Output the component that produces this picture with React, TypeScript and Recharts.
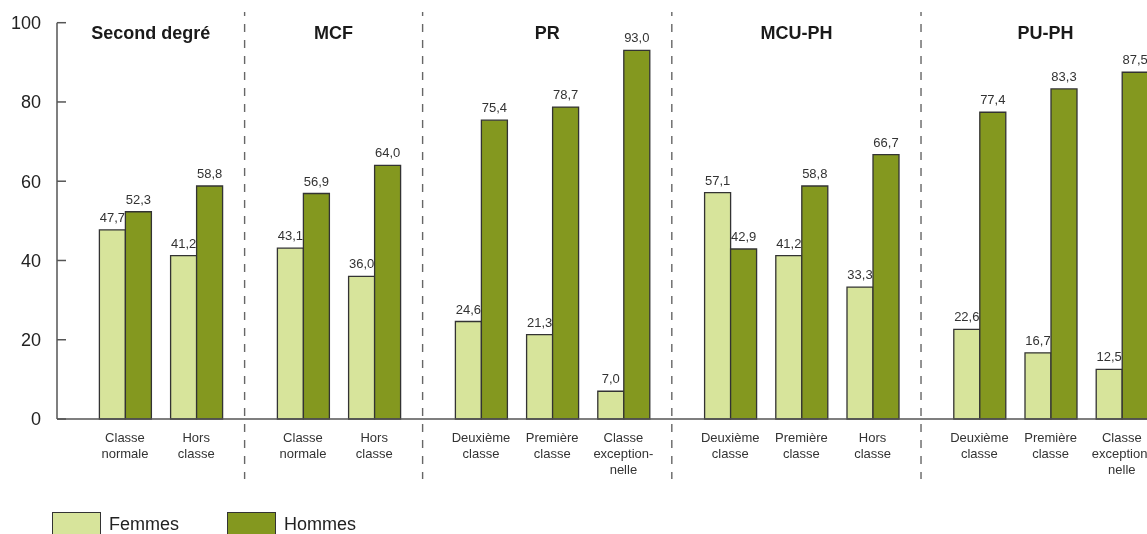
import { Bar, BarChart, LabelList, ReferenceArea, ReferenceLine, XAxis, YAxis } from "recharts";

const groups = ["Second degré", "MCF", "PR", "MCU-PH", "PU-PH"];
const categories = [
  "Classe\nnormale",
  "Hors\nclasse",
  "Classe\nnormale",
  "Hors\nclasse",
  "Deuxième\nclasse",
  "Première\nclasse",
  "Classe\nexception-\nnelle",
  "Deuxième\nclasse",
  "Première\nclasse",
  "Hors\nclasse",
  "Deuxième\nclasse",
  "Première\nclasse",
  "Classe\nexception-\nnelle",
];
const categoryGroup = [0, 0, 1, 1, 2, 2, 2, 3, 3, 3, 4, 4, 4];
const femmes = [47.7, 41.2, 43.1, 36.0, 24.6, 21.3, 7.0, 57.1, 41.2, 33.3, 22.6, 16.7, 12.5];
const hommes = [52.3, 58.8, 56.9, 64.0, 75.4, 78.7, 93.0, 42.9, 58.8, 66.7, 77.4, 83.3, 87.5];
const yTicks = [0, 20, 40, 60, 80, 100];

const FEMMES = "#d7e49b";
const HOMMES = "#84981f";
const EDGE = "#333333";
const AXIS = "#555555";
const FONT = "'Liberation Sans', Arial, sans-serif";

// half a slot of space between two groups
const positions = categories.map((_, i) => i + 0.5 * categoryGroup[i]);
const data = categories.map((c, i) => ({
  pos: positions[i],
  label: c,
  femmes: femmes[i],
  hommes: hommes[i],
}));

const X_MIN = -0.955;
const X_MAX = 15;

const groupLast = groups.map((_, g) => Math.max(...positions.filter((_, i) => categoryGroup[i] === g)));
const dividers = groupLast.map((p) => p + 0.68);

const fmt = (v: any) => Number(v).toFixed(1).replace(".", ",");

const XTick = ({ x, y, payload }: any) => {
  const i = positions.indexOf(payload.value);
  const lines = i >= 0 ? categories[i].split("\n") : [];
  return (
    <text x={x} y={y} textAnchor="middle" fontSize={13} fill="#333" fontFamily={FONT}>
      {lines.map((l, k) => (
        <tspan key={k} x={x} dy={k === 0 ? 22.5 : 16}>
          {l}
        </tspan>
      ))}
    </text>
  );
};

const YTick = ({ x, y, payload }: any) => (
  <g>
    <line x1={x + 16} x2={x + 25} y1={y} y2={y} stroke={AXIS} strokeWidth={1.5} />
    <text x={x} y={y} dy="0.36em" textAnchor="end" fontSize={18} fill="#222" fontFamily={FONT}>
      {payload.value}
    </text>
  </g>
);

const Divider = (props: any) => {
  const top = Math.min(props.y1, props.y2);
  const bottom = Math.max(props.y1, props.y2);
  return (
    <line
      x1={props.x1}
      x2={props.x2}
      y1={top - 10.7}
      y2={bottom + 60}
      stroke="#666"
      strokeWidth={1.4}
      strokeDasharray="8 8"
      strokeDashoffset={4}
    />
  );
};

const GroupTitle = (title: string) => (props: any) => {
  const vb = props.viewBox;
  return (
    <text
      x={vb.x + vb.width / 2}
      y={vb.y + 16.3}
      textAnchor="middle"
      fontSize={18}
      fontWeight="bold"
      fill="#1a1a1a"
      fontFamily={FONT}
    >
      {title}
    </text>
  );
};

export default function App() {
  return (
    <div
      style={{
        position: "fixed",
        left: 8,
        top: 8,
        width: 1139,
        height: 526,
        overflow: "hidden",
        fontFamily: FONT,
      }}
    >
      <style>{"html { overflow: hidden; }"}</style>
      <BarChart
        width={1185}
        height={526}
        data={data}
        margin={{ top: 14.7, right: 0, bottom: 0, left: 0 }}
        barSize={26}
        barGap={0}
      >
        <XAxis
          dataKey="pos"
          type="number"
          domain={[X_MIN, X_MAX]}
          allowDataOverflow
          ticks={positions}
          interval={0}
          tick={<XTick />}
          tickLine={false}
          tickSize={0}
          tickMargin={0}
          height={115}
          axisLine={{ stroke: AXIS, strokeWidth: 1.5 }}
        />
        <YAxis
          type="number"
          domain={[0, 100]}
          ticks={yTicks}
          width={49}
          tick={<YTick />}
          tickLine={false}
          tickSize={0}
          tickMargin={16}
          axisLine={{ stroke: AXIS, strokeWidth: 1.5 }}
        />
        {groups.map((g, gi) => (
          <ReferenceArea
            key={g}
            x1={gi === 0 ? X_MIN : dividers[gi - 1]}
            x2={dividers[gi]}
            fill="none"
            fillOpacity={0}
            stroke="none"
            ifOverflow="extendDomain"
            label={GroupTitle(g)}
          />
        ))}
        {dividers.slice(0, -1).map((d) => (
          <ReferenceLine key={d} x={d} shape={Divider} />
        ))}
        <Bar dataKey="femmes" fill={FEMMES} stroke={EDGE} strokeWidth={1.3} isAnimationActive={false}>
          <LabelList dataKey="femmes" position="top" offset={8} formatter={fmt} fontSize={13} fill="#333" fontFamily={FONT} />
        </Bar>
        <Bar dataKey="hommes" fill={HOMMES} stroke={EDGE} strokeWidth={1.3} isAnimationActive={false}>
          <LabelList dataKey="hommes" position="top" offset={8} formatter={fmt} fontSize={13} fill="#333" fontFamily={FONT} />
        </Bar>
      </BarChart>
      <div style={{ position: "absolute", left: 44, top: 504, fontSize: 18, color: "#222", lineHeight: "18px" }}>
        {[
          { name: "Femmes", color: FEMMES },
          { name: "Hommes", color: HOMMES },
        ].map((s, i) => (
          <div key={s.name} style={{ position: "absolute", left: i * 175, top: 0, whiteSpace: "nowrap" }}>
            <div
              style={{
                position: "absolute",
                left: 0,
                top: 0,
                width: 47,
                height: 24,
                background: s.color,
                border: `1.3px solid ${EDGE}`,
              }}
            />
            <span style={{ position: "absolute", left: 57, top: 3 }}>{s.name}</span>
          </div>
        ))}
      </div>
    </div>
  );
}
